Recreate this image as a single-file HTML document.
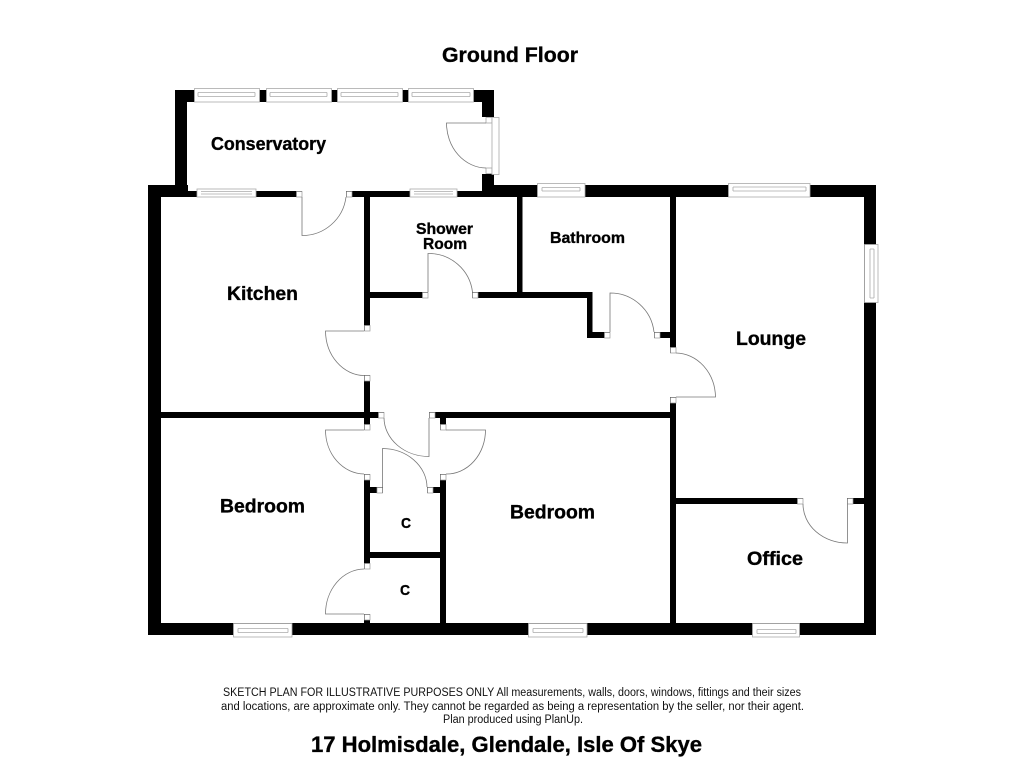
<!DOCTYPE html>
<html><head><meta charset="utf-8"><style>
html,body{margin:0;padding:0;background:#fff}
svg{display:block}
text{font-family:"Liberation Sans",sans-serif;font-weight:bold;fill:#000;stroke:#000;stroke-width:.35}
.f{font-weight:normal;fill:#111;stroke:none}
.j{fill:#fff;stroke:#999;stroke-width:.7}
.w{fill:#fff;stroke:#aaa;stroke-width:.8}
.l{fill:none;stroke:#777;stroke-width:.8}
</style></head><body>
<svg width="1024" height="768" viewBox="0 0 1024 768" xmlns="http://www.w3.org/2000/svg">
<rect width="1024" height="768" fill="#fff"/>
<g fill="#000">
<!-- conservatory -->
<rect x="175" y="90" width="12" height="107"/>
<rect x="175" y="90" width="319" height="12"/>
<rect x="482" y="90" width="12" height="27"/>
<rect x="482" y="174" width="12" height="23"/>
<rect x="187" y="191" width="115" height="6"/>
<rect x="346" y="191" width="140" height="6"/>
<!-- outer -->
<rect x="148" y="185" width="40" height="12"/>
<rect x="482" y="185" width="394" height="12"/>
<rect x="148" y="185" width="13" height="450"/>
<rect x="864" y="185" width="12" height="450"/>
<rect x="148" y="623" width="728" height="12"/>
<!-- internal verticals -->
<rect x="364" y="191" width="6" height="140"/>
<rect x="364" y="375" width="6" height="55"/>
<rect x="364" y="474" width="6" height="95"/>
<rect x="364" y="614" width="6" height="9"/>
<rect x="517" y="197" width="5.500" height="97"/>
<rect x="670" y="197" width="6" height="156"/>
<rect x="670" y="397" width="6" height="226"/>
<rect x="440" y="412" width="6" height="18"/>
<rect x="440" y="474" width="6" height="149"/>
<!-- internal horizontals -->
<rect x="370" y="292" width="58" height="6"/>
<rect x="472" y="292" width="120" height="6"/>
<rect x="587" y="292" width="5.500" height="46"/>
<rect x="587" y="332" width="23" height="6"/>
<rect x="654" y="332" width="16" height="6"/>
<rect x="161" y="412" width="223" height="6"/>
<rect x="429" y="412" width="241" height="6"/>
<rect x="370" y="487" width="13" height="6"/>
<rect x="427" y="487" width="13" height="6"/>
<rect x="364" y="552" width="82" height="6"/>
<rect x="676" y="498" width="127" height="6"/>
<rect x="847" y="498" width="17" height="6"/>
</g>
<!-- door jambs -->
<g class="j">
<rect x="296.500" y="191.500" width="5.500" height="5.500"/><rect x="346.500" y="191.500" width="5.500" height="5.500"/>
<rect x="422.500" y="292.500" width="5.500" height="5.500"/><rect x="472.500" y="292.500" width="5.500" height="5.500"/>
<rect x="604.500" y="332.500" width="5.500" height="5.500"/><rect x="654.500" y="332.500" width="5.500" height="5.500"/>
<rect x="670.500" y="347.500" width="5.500" height="5.500"/><rect x="670.500" y="397.500" width="5.500" height="5.500"/>
<rect x="364.500" y="325.500" width="5.500" height="5.500"/><rect x="364.500" y="375.500" width="5.500" height="5.500"/>
<rect x="378.500" y="412.500" width="5.500" height="5.500"/><rect x="429.500" y="412.500" width="5.500" height="5.500"/>
<rect x="364.500" y="424.500" width="5.500" height="5.500"/><rect x="364.500" y="474.500" width="5.500" height="5.500"/>
<rect x="440.500" y="424.500" width="5.500" height="5.500"/><rect x="440.500" y="474.500" width="5.500" height="5.500"/>
<rect x="377" y="487.500" width="5.500" height="5.500"/><rect x="427.500" y="487.500" width="5.500" height="5.500"/>
<rect x="364.500" y="563.500" width="5.500" height="5.500"/><rect x="364.500" y="614.500" width="5.500" height="5.500"/>
<rect x="797.500" y="498.500" width="5.500" height="5.500"/><rect x="847.500" y="498.500" width="5.500" height="5.500"/>
<rect x="486" y="117.500" width="6" height="5.500"/><rect x="486" y="168" width="6" height="5.500"/>
</g>
<!-- door leaves -->
<g class="l">
<path d="M302 197V235.500A44 44 0 0 0 346 197"/>
<path d="M428 292V253.500A44 44 0 0 1 472.500 292"/>
<path d="M610 332V293A44 44 0 0 1 654 332"/>
<path d="M676 353A40 45 0 0 1 715.500 397H676"/>
<path d="M364 331H325.500A39 45 0 0 0 364 375.500"/>
<path d="M384 418A45 39 0 0 0 429 456.500V418"/>
<path d="M364 430H325.500A39 44 0 0 0 364 474"/>
<path d="M446 430H485.500A39 44 0 0 1 446 474"/>
<path d="M382.500 487V448.500A45 39 0 0 1 427 487"/>
<path d="M364 569A39 45 0 0 0 325.500 614H364"/>
<path d="M803 504A44 39 0 0 0 847.500 543V504"/>
<path d="M486 123H446.500A40 45 0 0 0 486 168"/>
</g>
<!-- windows -->
<g class="w">
<rect x="194.500" y="88.500" width="65" height="13.500"/><path d="M198 92.500H255M198 96.500H255M198 92.500V96.500M255 92.500V96.500"/>
<rect x="266.500" y="88.500" width="65" height="13.500"/><path d="M270 92.500H327M270 96.500H327M270 92.500V96.500M327 92.500V96.500"/>
<rect x="337.500" y="88.500" width="65" height="13.500"/><path d="M341 92.500H398M341 96.500H398M341 92.500V96.500M398 92.500V96.500"/>
<rect x="408.500" y="88.500" width="65" height="13.500"/><path d="M412 92.500H470M412 96.500H470M412 92.500V96.500M470 92.500V96.500"/>
<rect x="197" y="189" width="59" height="8"/><path d="M201 191.500H252M201 194H252"/>
<rect x="410" y="189" width="47" height="8"/><path d="M414 191.500H453M414 194H453"/>
<rect x="537.500" y="183.500" width="47.500" height="13.500"/><path d="M542 187.500H580M542 191H580M542 187.500V191M580 187.500V191"/>
<rect x="728.500" y="183.500" width="81.500" height="13.500"/><path d="M733 187H806M733 191H806M733 187V191M806 187V191"/>
<rect x="864.500" y="244.500" width="13.500" height="58"/><path d="M870 249V298M874 249V298M870 249H874M870 298H874"/>
<rect x="492" y="117.500" width="7" height="57"/>
<rect x="233.500" y="623.500" width="58.500" height="13.500"/><path d="M238 628.500H288M238 632.500H288M238 628.500V632.500M288 628.500V632.500"/>
<rect x="528.500" y="623.500" width="58.500" height="13.500"/><path d="M533 628.500H583M533 632.500H583M533 628.500V632.500M583 628.500V632.500"/>
<rect x="752.500" y="623.500" width="47" height="13.500"/><path d="M757 629.500H796M757 633.500H796M757 629.500V633.500M796 629.500V633.500"/>
</g>
<!-- labels -->
<text x="442" y="62" font-size="21" textLength="136" lengthAdjust="spacingAndGlyphs">Ground Floor</text>
<text x="211" y="150" font-size="18" textLength="115" lengthAdjust="spacingAndGlyphs">Conservatory</text>
<text x="227" y="300" font-size="19.500" textLength="71" lengthAdjust="spacingAndGlyphs">Kitchen</text>
<text x="416" y="234" font-size="16" textLength="57" lengthAdjust="spacingAndGlyphs">Shower</text>
<text x="423" y="249" font-size="16" textLength="44" lengthAdjust="spacingAndGlyphs">Room</text>
<text x="550" y="243" font-size="16" textLength="75" lengthAdjust="spacingAndGlyphs">Bathroom</text>
<text x="736" y="345" font-size="19.500" textLength="70" lengthAdjust="spacingAndGlyphs">Lounge</text>
<text x="220" y="512.500" font-size="19.500" textLength="85" lengthAdjust="spacingAndGlyphs">Bedroom</text>
<text x="510" y="518.500" font-size="19.500" textLength="85" lengthAdjust="spacingAndGlyphs">Bedroom</text>
<text x="747" y="565" font-size="19.500" textLength="56" lengthAdjust="spacingAndGlyphs">Office</text>
<text x="401" y="528" font-size="15" textLength="10" lengthAdjust="spacingAndGlyphs">C</text>
<text x="400" y="595" font-size="15" textLength="10" lengthAdjust="spacingAndGlyphs">C</text>
<text class="f" x="223" y="696" font-size="11.500" textLength="578" lengthAdjust="spacingAndGlyphs">SKETCH PLAN FOR ILLUSTRATIVE PURPOSES ONLY All measurements, walls, doors, windows, fittings and their sizes</text>
<text class="f" x="221" y="710" font-size="11.500" textLength="583" lengthAdjust="spacingAndGlyphs">and locations, are approximate only. They cannot be regarded as being a representation by the seller, nor their agent.</text>
<text class="f" x="443" y="723" font-size="11.500" textLength="140" lengthAdjust="spacingAndGlyphs">Plan produced using PlanUp.</text>
<text x="311" y="752" font-size="22" textLength="391" lengthAdjust="spacingAndGlyphs">17 Holmisdale, Glendale, Isle Of Skye</text>
</svg>
</body></html>
